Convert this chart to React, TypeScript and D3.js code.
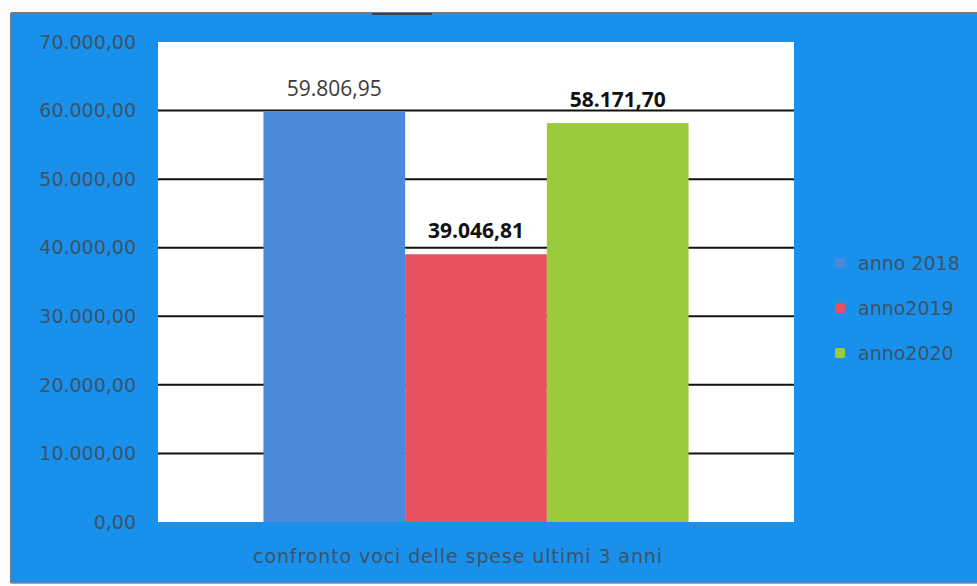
import React from "react";
import * as d3 from "d3";

const categories = ["confronto voci delle spese ultimi 3 anni"];
const seriesNames = ["anno 2018", "anno2019", "anno2020"];
const seriesValues = [59806.95, 39046.81, 58171.7];
const seriesColors = ["#4a89dc", "#e9515f", "#9bcb3b"];
const yTicks = [0, 10000, 20000, 30000, 40000, 50000, 60000, 70000];

const W = 977;
const H = 586;
const plotL = 158;
const plotR = 794;
const plotT = 42;
const plotB = 522;

const itLocale = d3.formatLocale({
  decimal: ",",
  thousands: ".",
  grouping: [3],
  currency: ["", " €"],
});
const fmt = itLocale.format(",.2f");

export default function App() {
  const y = d3.scaleLinear().domain([0, 70000]).range([plotB, plotT]);
  const x0 = d3
    .scaleBand<string>()
    .domain(categories)
    .range([plotL, plotR])
    .paddingInner(0)
    .paddingOuter(0.248);
  const x1 = d3
    .scaleBand<string>()
    .domain(seriesNames)
    .range([0, x0.bandwidth()])
    .padding(0);

  const cat = categories[0];
  const gx = x0(cat) as number;

  return (
    <svg
      width={W}
      height={H}
      style={{ position: "absolute", left: 0, top: 0, background: "#fbfbfb" }}
    >
      {/* outer blue panel */}
      <rect x={12} y={13} width={W - 12} height={570} fill="#1890ec" />
      <line x1={11} y1={13} x2={W} y2={13} stroke="#6f7a85" strokeWidth={2} />
      <line x1={11} y1={13} x2={11} y2={583} stroke="#6f7a85" strokeWidth={2} />
      <line x1={11} y1={583} x2={W} y2={583} stroke="#7d8a96" strokeWidth={1.5} />
      <line x1={372} y1={14} x2={432} y2={14} stroke="#3a4046" strokeWidth={2} />

      {/* plot area */}
      <rect x={plotL} y={plotT} width={plotR - plotL} height={plotB - plotT} fill="#ffffff" />

      {/* gridlines */}
      {yTicks
        .filter((t) => t > 0 && t < 70000)
        .map((t) => (
          <line
            key={t}
            x1={plotL}
            x2={plotR}
            y1={y(t)}
            y2={y(t)}
            stroke="#111"
            strokeWidth={2}
          />
        ))}

      {/* bars */}
      {seriesNames.map((s, i) => (
        <rect
          key={s}
          x={gx + (x1(s) as number)}
          y={y(seriesValues[i])}
          width={x1.bandwidth()}
          height={plotB - y(seriesValues[i])}
          fill={seriesColors[i]}
        />
      ))}

      {/* data labels */}
      {seriesNames.map((s, i) => (
        <text
          key={s}
          x={gx + (x1(s) as number) + x1.bandwidth() / 2}
          y={y(seriesValues[i]) - 16}
          textAnchor="middle"
          fontFamily="'Open Sans', sans-serif"
          fontSize={21}
          fontWeight={i === 0 ? 400 : 700}
          fill={i === 0 ? "#3a3a3a" : "#111"}
        >
          {fmt(seriesValues[i])}
        </text>
      ))}

      {/* y axis labels */}
      {yTicks.map((t) => (
        <text
          key={t}
          x={136}
          y={y(t)}
          dy="0.35em"
          textAnchor="end"
          fontFamily="'DejaVu Sans', sans-serif"
          fontSize={19}
          fill="#3c5468"
        >
          {fmt(t)}
        </text>
      ))}

      {/* x axis category */}
      <text
        x={458}
        y={563}
        textAnchor="middle"
        fontFamily="'DejaVu Sans', sans-serif"
        fontSize={19}
        letterSpacing={0.9}
        fill="#3c5468"
      >
        {cat}
      </text>

      {/* legend */}
      {seriesNames.map((s, i) => (
        <g key={s} transform={`translate(835, ${263 + i * 45})`}>
          <rect x={0} y={-5} width={10} height={10} rx={2} fill={seriesColors[i]} />
          <text
            x={23}
            y={0}
            dy="0.35em"
            fontFamily="'DejaVu Sans', sans-serif"
            fontSize={19}
            fill="#3c5468"
          >
            {s}
          </text>
        </g>
      ))}
    </svg>
  );
}
